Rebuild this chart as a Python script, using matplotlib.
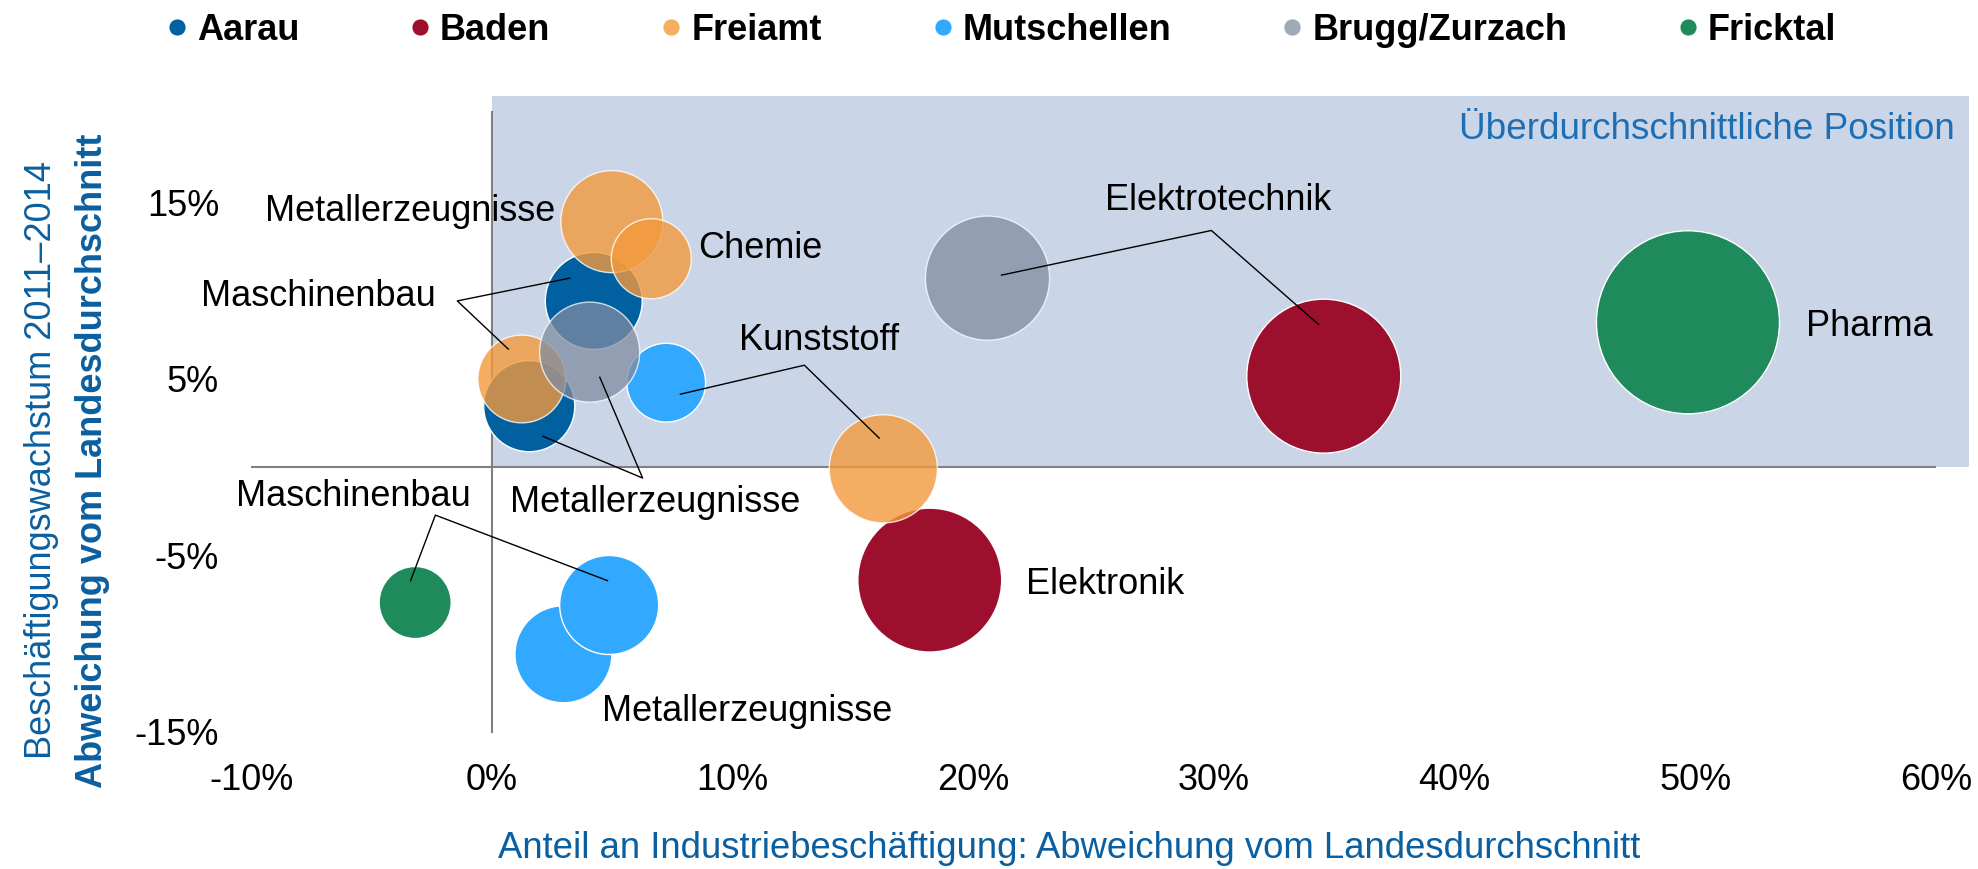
import matplotlib
matplotlib.use("Agg")
import matplotlib.pyplot as plt
from matplotlib.lines import Line2D
from matplotlib.patches import Rectangle

plt.rcParams['font.family'] = ['Liberation Sans', 'DejaVu Sans']

# Regionen und Branchen: x = Anteil an Industriebeschaeftigung (Abweichung, %),
# y = Beschaeftigungswachstum 2011-2014 (Abweichung, %), groesse = Beschaeftigte (rel.)
regionen = ['Aarau', 'Baden', 'Freiamt', 'Mutschellen', 'Brugg/Zurzach', 'Fricktal']

aarau_branche = ['Maschinenbau', 'Metallerzeugnisse']
aarau_x = [4.24, 1.56]
aarau_y = [9.41, 3.45]
aarau_groesse = [94, 83]

baden_branche = ['Elektrotechnik', 'Elektronik']
baden_x = [34.57, 18.2]
baden_y = [5.15, -6.4]
baden_groesse = [237, 207]

freiamt_branche = ['Metallerzeugnisse', 'Chemie', 'Maschinenbau', 'Kunststoff']
freiamt_x = [4.99, 6.63, 1.25, 16.27]
freiamt_y = [13.9, 11.8, 4.99, -0.1]
freiamt_groesse = [104, 64, 77, 117]

mutschellen_branche = ['Kunststoff', 'Metallerzeugnisse', 'Maschinenbau']
mutschellen_x = [7.25, 2.98, 4.88]
mutschellen_y = [4.78, -10.6, -7.81]
mutschellen_groesse = [62, 94, 98]

brugg_branche = ['Metallerzeugnisse', 'Elektrotechnik']
brugg_x = [4.07, 20.6]
brugg_y = [6.51, 10.7]
brugg_groesse = [100, 154]

fricktal_branche = ['Pharma', 'Maschinenbau']
fricktal_x = [49.7, -3.18]
fricktal_y = [8.2, -7.67]
fricktal_groesse = [335, 52]

x_ticks = [-10, 0, 10, 20, 30, 40, 50, 60]
y_ticks = [-15, -5, 5, 15]

farben = ['#0060A0', '#9C0F2D', '#F3993C', '#33A8FF', '#808CA1', '#1F8A5B']
alphas = [1.0, 1.0, 0.8, 1.0, 0.75, 1.0]
blau = '#0A5FA0'

serien = [
    (aarau_x, aarau_y, aarau_groesse),
    (baden_x, baden_y, baden_groesse),
    (freiamt_x, freiamt_y, freiamt_groesse),
    (mutschellen_x, mutschellen_y, mutschellen_groesse),
    (brugg_x, brugg_y, brugg_groesse),
    (fricktal_x, fricktal_y, fricktal_groesse),
]

fig = plt.figure(figsize=(19.78, 8.69), dpi=100)
ax = fig.add_axes([0.1269, 0.1577, 0.8518, 0.7112])
ax.set_xlim(-10, 60)
ax.set_ylim(-15, 20)

# Feld "ueberdurchschnittlich"
ax.add_patch(Rectangle((0, 0), 61.36, 21.0, facecolor='#CBD5E8', edgecolor='none',
                       zorder=0, clip_on=False))
ax.plot([-10, 60], [0, 0], color='#808080', lw=1.5, zorder=1)
ax.plot([0, 0], [-15, 20.1], color='#808080', lw=1.5, zorder=1, clip_on=False)

for i, (xs, ys, gr) in enumerate(serien):
    ax.scatter(xs, ys, s=[g * 51.84 for g in gr], color=farben[i], alpha=alphas[i],
               edgecolors='white', linewidths=1, zorder=2 + i)

# Beschriftungen
fs = 26
dy = -0.2
ax.text(2.62, 14.66 + dy, 'Metallerzeugnisse', ha='right', va='center', fontsize=fs, zorder=20)
ax.text(8.58, 12.6 + dy, 'Chemie', ha='left', va='center', fontsize=fs, zorder=20)
ax.text(-2.33, 9.85 + dy, 'Maschinenbau', ha='right', va='center', fontsize=fs, zorder=20)
ax.text(10.26, 7.37 + dy, 'Kunststoff', ha='left', va='center', fontsize=fs, zorder=20)
ax.text(0.75, -2.0, 'Metallerzeugnisse', ha='left', va='center', fontsize=fs, zorder=20)
ax.text(-0.86, -1.47 + dy, 'Maschinenbau', ha='right', va='center', fontsize=fs, zorder=20)
ax.text(4.6, -13.64 + dy, 'Metallerzeugnisse', ha='left', va='center', fontsize=fs, zorder=20)
ax.text(25.5, 15.3 + dy, 'Elektrotechnik', ha='left', va='center', fontsize=fs, zorder=20)
ax.text(22.2, -6.43 + dy, 'Elektronik', ha='left', va='center', fontsize=fs, zorder=20)
ax.text(54.6, 8.15 + dy, 'Pharma', ha='left', va='center', fontsize=fs, zorder=20)
ax.text(60.8, 19.3 + dy, 'Überdurchschnittliche Position', ha='right', va='center',
        fontsize=26.6, color='#1E6EB4', zorder=20)

# Hinweislinien (je Knick -> zwei Blasen)
linien = [
    ((-1.43, 9.41), (3.24, 10.7), (0.69, 6.68)),
    ((12.99, 5.77), (7.84, 4.13), (16.1, 1.64)),
    ((6.27, -0.62), (2.12, 1.75), (4.49, 5.09)),
    ((-2.34, -2.72), (-3.37, -6.43), (4.81, -6.43)),
    ((29.9, 13.4), (21.18, 10.87), (34.35, 8.08)),
]
for knick, a, b in linien:
    ax.plot([a[0], knick[0], b[0]], [a[1], knick[1], b[1]], color='black', lw=1, zorder=15)

ax.set_xticks(x_ticks)
ax.set_xticklabels([f'{t}%' for t in x_ticks], fontsize=fs)
ax.set_yticks(y_ticks)
ax.set_yticklabels([f'{t}%' for t in y_ticks], fontsize=fs)
ax.tick_params(axis='x', length=0, pad=22)
ax.tick_params(axis='y', length=0, pad=23)
for sp in ax.spines.values():
    sp.set_visible(False)
ax.patch.set_visible(False)

fig.text(1069 / 1978, 1 - 849 / 869,
         'Anteil an Industriebeschäftigung: Abweichung vom Landesdurchschnitt',
         ha='center', va='center', fontsize=26.3, color=blau)
fig.text(42 / 1978, 1 - 460 / 869, 'Beschäftigungswachstum 2011–2014', rotation=90,
         ha='center', va='center', fontsize=fs, color=blau)
fig.text(93 / 1978, 1 - 461 / 869, 'Abweichung vom Landesdurchschnitt', rotation=90,
         ha='center', va='center', fontsize=fs, color=blau, fontweight='bold')

handles = [Line2D([], [], marker='o', ls='', color=farben[i], alpha=alphas[i],
                  markersize=12.2, markeredgecolor='white', markeredgewidth=0.5)
           for i in range(len(regionen))]
fig.legend(handles, regionen, loc='center left', bbox_to_anchor=(168 / 1978, 1 - 30 / 869),
           ncol=6, frameon=False, prop={'size': fs, 'weight': 'bold'},
           handlelength=0.5, handletextpad=0.3, columnspacing=3.1,
           borderpad=0, borderaxespad=0)

fig.savefig('out.png', dpi=100)
